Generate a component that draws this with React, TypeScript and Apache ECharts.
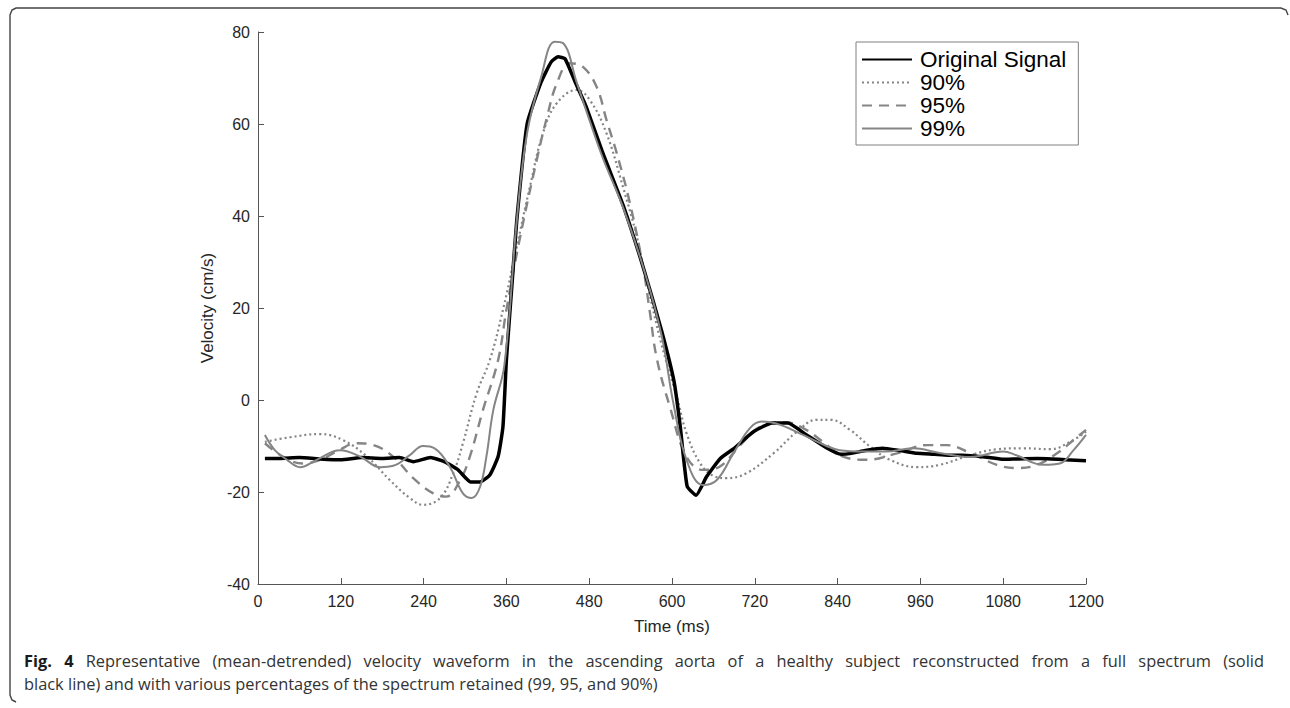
import React, { useEffect, useRef } from "react";
import * as echarts from "echarts";

const xTicks = [0, 120, 240, 360, 480, 600, 720, 840, 960, 1080, 1200];
const yTicks = [-40, -20, 0, 20, 40, 60, 80];

const origT = [10, 30, 60, 90, 120, 150, 180, 205, 225, 250, 270, 290, 308, 322, 336, 348, 355, 360, 368, 375, 390, 410, 425, 435, 445, 460, 475, 500, 530, 560, 585, 603, 612, 622, 635, 650, 670, 690, 718, 745, 768, 795, 825, 845, 860, 880, 905, 930, 955, 980, 1000, 1020, 1040, 1060, 1080, 1100, 1130, 1150, 1170, 1200];
const origV = [-12.7, -12.7, -12.5, -12.8, -13.0, -12.5, -12.7, -12.5, -13.4, -12.5, -13.4, -15.2, -17.8, -17.8, -16.3, -12.3, -5.8, 8.7, 25, 39, 60, 69, 73.5, 74.6, 74.2, 69, 64, 53.6, 42, 28, 15, 4, -5.8, -18.8, -20.7, -16.7, -12.7, -10.5, -6.9, -5.0, -5.0, -7.6, -10.5, -11.8, -11.6, -11.0, -10.5, -11.0, -11.6, -11.8, -12.0, -12.0, -12.2, -12.5, -12.9, -12.8, -12.7, -12.8, -13.0, -13.2];

const p99T = [10, 25, 42, 61, 85, 119, 148, 177, 196, 220, 239, 256, 278, 297, 310, 322, 331, 341, 357, 375, 390, 410, 430, 442, 462, 480, 500, 530, 560, 585, 602, 621, 645, 665, 689, 713, 730, 757, 790, 824, 843, 877, 910, 949, 988, 1032, 1080, 1099, 1138, 1162, 1182, 1200];
const p99V = [-7.6, -11, -13, -14.6, -13, -10.9, -12.3, -14.6, -14.3, -12, -10, -10.5, -14.5, -20.3, -21.3, -18.8, -12.3, -2.2, 7.5, 39, 58, 70, 77.9, 77.6, 69, 61, 52.5, 41.5, 28, 14, -0.7, -13, -18.5, -17.4, -11.6, -6.1, -4.7, -5.4, -7.6, -10, -10.9, -11.2, -11.2, -10.5, -11.5, -12.4, -11.2, -12, -14.1, -13.8, -10.9, -7.6];

const p95T = [10, 36, 65, 90, 114, 143, 167, 196, 225, 254, 273, 293, 307, 326, 348, 360, 380, 404, 419, 433, 452, 471, 491, 505, 520, 539, 558, 568, 578, 597, 621, 645, 669, 699, 728, 762, 790, 819, 848, 882, 926, 970, 998, 1032, 1071, 1100, 1129, 1158, 1182, 1200];
const p95V = [-9.4, -12.3, -13.8, -13, -11.2, -9.4, -9.8, -12.3, -17, -20.3, -21, -17.4, -12.3, -2.2, 8.7, 19.6, 35.5, 52.2, 61.6, 68.8, 73.2, 72.4, 68, 60.9, 53.6, 42.8, 29, 19, 9, -1.5, -12.3, -15.2, -14.5, -9.8, -5.8, -4.8, -6.1, -9.1, -12.3, -13, -11.6, -9.8, -9.8, -11.5, -14.1, -14.8, -14.1, -11.6, -8.7, -6.5];

const p90T = [10, 46, 90, 123, 158, 191, 220, 239, 264, 283, 297, 317, 336, 355, 375, 394, 413, 433, 462, 481, 505, 529, 549, 563, 585, 607, 621, 641, 660, 679, 708, 747, 781, 810, 830, 858, 887, 916, 955, 988, 1032, 1071, 1109, 1148, 1177, 1200];
const p90V = [-9.1, -8.1, -7.4, -8.7, -12.3, -17.4, -21.3, -22.8, -21.3, -15.9, -9.4, 1.5, 8.7, 19.6, 33.3, 46.3, 58, 64.5, 67.4, 65.2, 58, 46.3, 35.5, 26, 12, 0.7, -7.2, -13.8, -16.5, -17, -15.9, -11.6, -6.9, -4.3, -4.3, -6.5, -10.1, -13, -14.6, -14.1, -12, -10.7, -10.5, -10.7, -9.1, -6.9];

const seriesNames = ["Original Signal", "90%", "95%", "99%"];
const captionBold = "Fig. 4";
const captionLine1 = "Representative (mean-detrended) velocity waveform in the ascending aorta of a healthy subject reconstructed from a full spectrum (solid";
const captionLine2 = "black line) and with various percentages of the spectrum retained (99, 95, and 90%)";

const zip = (t: number[], v: number[]) => t.map((x, i) => [x, v[i]]);

const CAP_FONT = 16.4;
const CAP_FAMILY = "Open Sans";

function justifiedLine(targetWidth: number) {
  const canvas = document.createElement("canvas");
  const ctx = canvas.getContext("2d")!;
  const boldWords = captionBold.split(" ");
  const normalWords = captionLine1.split(" ");
  let total = 0;
  ctx.font = `bold ${CAP_FONT}px '${CAP_FAMILY}'`;
  boldWords.forEach((w) => (total += ctx.measureText(w).width));
  ctx.font = `${CAP_FONT}px '${CAP_FAMILY}'`;
  normalWords.forEach((w) => (total += ctx.measureText(w).width));
  const gaps = boldWords.length + normalWords.length - 1;
  const sp = Math.max(3, (targetWidth - total) / gaps);
  const parts: string[] = [];
  boldWords.forEach((w) => parts.push(`{b|${w}}`));
  normalWords.forEach((w) => parts.push(`{n|${w}}`));
  return { text: parts.join("{s| }"), sp };
}

export default function App() {
  const ref = useRef<HTMLDivElement>(null);
  useEffect(() => {
    const chart = echarts.init(ref.current!, undefined, { renderer: "svg" });
    const gray = "#858585";
    const axisColor = "#262626";
    const font = "Liberation Sans";
    const line1 = justifiedLine(1240);
    chart.setOption({
      animation: false,
      backgroundColor: "#fff",
      grid: { left: 258, right: 204, top: 32, bottom: 124 },
      legend: {
        orient: "vertical",
        left: 856,
        top: 42,
        data: seriesNames,
        itemWidth: 50,
        itemHeight: 14,
        itemGap: 0,
        padding: [6, 12, 5, 5],
        borderColor: "#808080",
        borderWidth: 1,
        borderRadius: 0,
        backgroundColor: "#fff",
        itemStyle: { opacity: 0 },
        textStyle: { fontFamily: font, fontSize: 22.5, color: "#000", lineHeight: 21, padding: [0, 0, 0, 3] },
      },
      xAxis: {
        type: "value",
        min: 0,
        max: 1200,
        interval: 120,
        name: "Time (ms)",
        nameLocation: "middle",
        nameGap: 34,
        nameTextStyle: { fontFamily: font, fontSize: 17, color: axisColor },
        axisLine: { onZero: false, lineStyle: { color: "#555", width: 1 } },
        axisTick: { inside: true, length: 6, lineStyle: { color: "#555" } },
        axisLabel: { fontFamily: font, fontSize: 16, color: axisColor, margin: 9, formatter: (v: number) => String(v) },
        splitLine: { show: false },
      },
      yAxis: {
        type: "value",
        min: -40,
        max: 80,
        interval: 20,
        name: "Velocity (cm/s)",
        nameLocation: "middle",
        nameGap: 42,
        nameTextStyle: { fontFamily: font, fontSize: 17, color: axisColor },
        axisLine: { show: true, onZero: false, lineStyle: { color: "#555", width: 1 } },
        axisTick: { show: true, inside: true, length: 6, lineStyle: { color: "#555" } },
        axisLabel: { fontFamily: font, fontSize: 16, color: axisColor, margin: 8, formatter: (v: number) => String(v) },
        splitLine: { show: false },
      },
      series: [
        {
          name: seriesNames[1], type: "line", data: zip(p90T, p90V), smooth: 0.4, symbol: "none",
          lineStyle: { color: gray, width: 2.2, type: [2, 3] }, itemStyle: { color: gray }, z: 2,
        },
        {
          name: seriesNames[2], type: "line", data: zip(p95T, p95V), smooth: 0.4, symbol: "none",
          lineStyle: { color: gray, width: 2.4, type: [10, 7] }, itemStyle: { color: gray }, z: 3,
        },
        {
          name: seriesNames[0], type: "line", data: zip(origT, origV), smooth: 0.15, symbol: "none",
          lineStyle: { color: "#000", width: 3.5 }, itemStyle: { color: "#000" }, z: 4,
        },
        {
          name: seriesNames[3], type: "line", data: zip(p99T, p99V), smooth: 0.4, symbol: "none",
          lineStyle: { color: gray, width: 2 }, itemStyle: { color: gray }, z: 5,
        },
      ],
      graphic: [
        {
          type: "polyline",
          shape: { points: [[1288, 15], [1286, 10], [1281, 8], [16, 8], [12, 10], [10, 15], [10, 695], [12, 700], [16, 702]] },
          style: { stroke: "#444", lineWidth: 1.4, fill: null },
        },
        {
          type: "text",
          left: 24,
          top: 652,
          style: {
            text: line1.text,
            rich: {
              b: { fontWeight: "bold", fontFamily: CAP_FAMILY, fontSize: CAP_FONT, fill: "#1a1a1a" },
              n: { fontFamily: CAP_FAMILY, fontSize: CAP_FONT, fill: "#333" },
              s: { fontFamily: CAP_FAMILY, fontSize: CAP_FONT, width: line1.sp },
            },
            fontFamily: CAP_FAMILY,
            fontSize: CAP_FONT,
            fill: "#333",
          },
        },
        {
          type: "text",
          left: 24,
          top: 675,
          style: { text: captionLine2, fontFamily: CAP_FAMILY, fontSize: CAP_FONT, fill: "#333" },
        },
      ],
    });
    return () => chart.dispose();
  }, []);
  return <div ref={ref} style={{ position: "fixed", left: 0, top: 0, width: 1290, height: 708 }} />;
}
